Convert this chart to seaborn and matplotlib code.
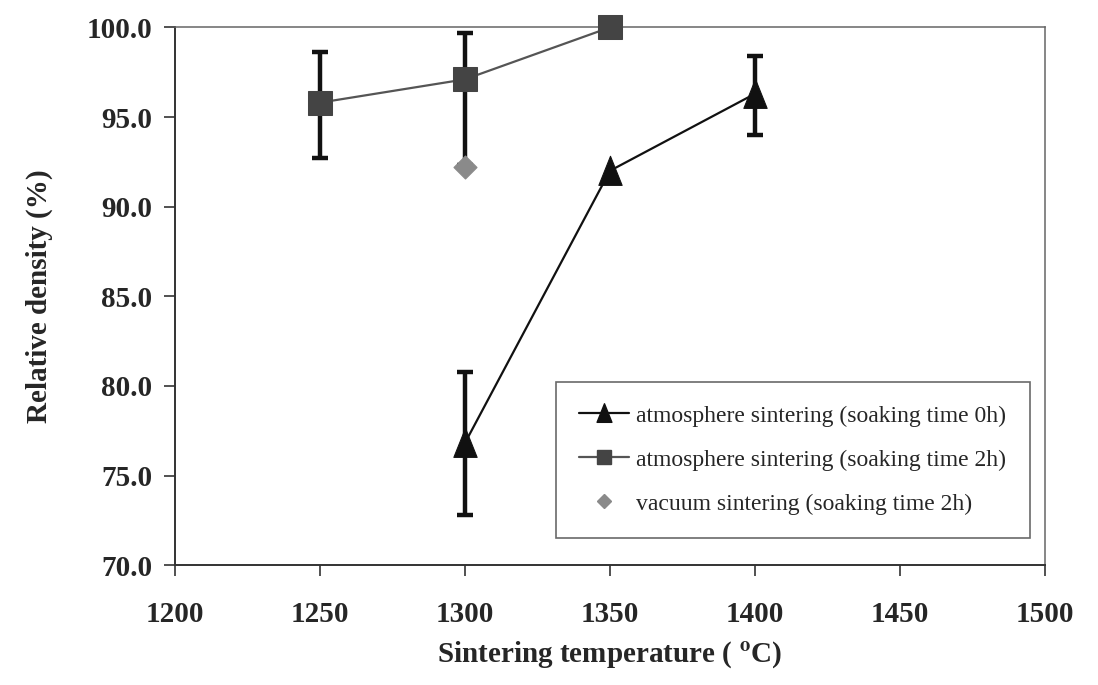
import matplotlib
matplotlib.use("Agg")
import matplotlib.pyplot as plt
import seaborn as sns
import pandas as pd
import numpy as np
from matplotlib.lines import Line2D
from matplotlib.path import Path

# Sintering temperature (deg C) and relative density (%)
temp_0h = [1300, 1350, 1400]
dens_0h = [76.8, 92.0, 96.3]
err_0h_low = [4.0, 0.0, 2.3]
err_0h_high = [4.0, 0.0, 2.1]

temp_2h = [1250, 1300, 1350]
dens_2h = [95.8, 97.1, 100.0]
err_2h_low = [3.1, 4.8, 0.0]
err_2h_high = [2.8, 2.6, 0.0]

temp_vac = [1300]
dens_vac = [92.2]

labels = [
    "atmosphere sintering (soaking time 0h)",
    "atmosphere sintering (soaking time 2h)",
    "vacuum sintering (soaking time 2h)",
]

sns.set_theme(style="white")
plt.rcParams["font.family"] = ["Liberation Serif", "DejaVu Serif"]
plt.rcParams["mathtext.fontset"] = "stix"

fig = plt.figure(figsize=(10.98, 6.85), dpi=100)
ax = fig.add_axes([0.159, 0.175, 0.793, 0.785])

df0 = pd.DataFrame({"t": temp_0h, "d": dens_0h})
df2 = pd.DataFrame({"t": temp_2h, "d": dens_2h})
dfv = pd.DataFrame({"t": temp_vac, "d": dens_vac})

c0 = "#111111"
c2 = "#444444"
cv = "#8a8a8a"

# slightly tall triangle marker
tall_tri = Path([(-0.42, -0.5), (0.42, -0.5), (0.0, 0.55), (-0.42, -0.5)],
                [Path.MOVETO, Path.LINETO, Path.LINETO, Path.CLOSEPOLY])


def draw_errors(x, y, lo, hi):
    # only points that carry an uncertainty get a bar
    keep = [i for i in range(len(x)) if lo[i] > 0 or hi[i] > 0]
    ax.errorbar([x[i] for i in keep], [y[i] for i in keep],
                yerr=[[lo[i] for i in keep], [hi[i] for i in keep]],
                fmt="none", ecolor="#111111", elinewidth=3.2, capsize=6,
                capthick=3.2, zorder=2, clip_on=False)


draw_errors(temp_0h, dens_0h, err_0h_low, err_0h_high)
draw_errors(temp_2h, dens_2h, err_2h_low, err_2h_high)

sns.lineplot(data=df2, x="t", y="d", ax=ax, color="#555555", linewidth=1.6,
             marker="s", markersize=17, markerfacecolor=c2,
             markeredgecolor=c2, zorder=3, clip_on=False)
sns.lineplot(data=df0, x="t", y="d", ax=ax, color="#111111", linewidth=1.6,
             marker=tall_tri, markersize=22, markerfacecolor=c0,
             markeredgecolor=c0, zorder=3, clip_on=False)
sns.scatterplot(data=dfv, x="t", y="d", ax=ax, marker="D", s=135, color=cv,
                edgecolor=cv, zorder=4, clip_on=False)

ax.set_xlim(1200, 1500)
ax.set_ylim(70, 100)
ax.set_xticks(np.arange(1200, 1501, 50))
ax.set_yticks(np.arange(70, 100.1, 5))
ax.set_yticklabels([f"{v:.1f}" for v in np.arange(70, 100.1, 5)])

ax.tick_params(axis="both", which="major", direction="out", length=8,
               width=1.2, color="#333333", labelsize=21, left=True,
               bottom=True)
ax.tick_params(axis="x", pad=18)
ax.tick_params(axis="y", pad=8)
for lab in ax.get_xticklabels() + ax.get_yticklabels():
    lab.set_fontweight("bold")

for side in ["left", "bottom"]:
    ax.spines[side].set_color("#333333")
    ax.spines[side].set_linewidth(1.4)
for side in ["top", "right"]:
    ax.spines[side].set_color("#666666")
    ax.spines[side].set_linewidth(1.1)

ax.set_xlabel(r"Sintering temperature ( $^{\mathbf{o}}$C)", fontsize=21,
              fontweight="bold", labelpad=8)
ax.set_ylabel("Relative density (%)", fontsize=21, fontweight="bold",
              labelpad=24)

handles = [
    Line2D([], [], color="#111111", lw=1.6, marker=tall_tri, markersize=14,
           markerfacecolor=c0, markeredgecolor=c0),
    Line2D([], [], color="#555555", lw=1.6, marker="s", markersize=10,
           markerfacecolor=c2, markeredgecolor=c2),
    Line2D([], [], lw=0, marker="D", markersize=7, markerfacecolor=cv,
           markeredgecolor=cv),
]
leg = ax.legend(handles, labels, loc="lower right",
                bbox_to_anchor=(0.982, 0.05), fontsize=17, frameon=True,
                fancybox=False, edgecolor="#444444", handlelength=2.1,
                handletextpad=0.3, labelspacing=0.95, borderpad=1.0,
                borderaxespad=0.0)
leg.get_frame().set_linewidth(1.2)

fig.savefig("out.png", dpi=100)
